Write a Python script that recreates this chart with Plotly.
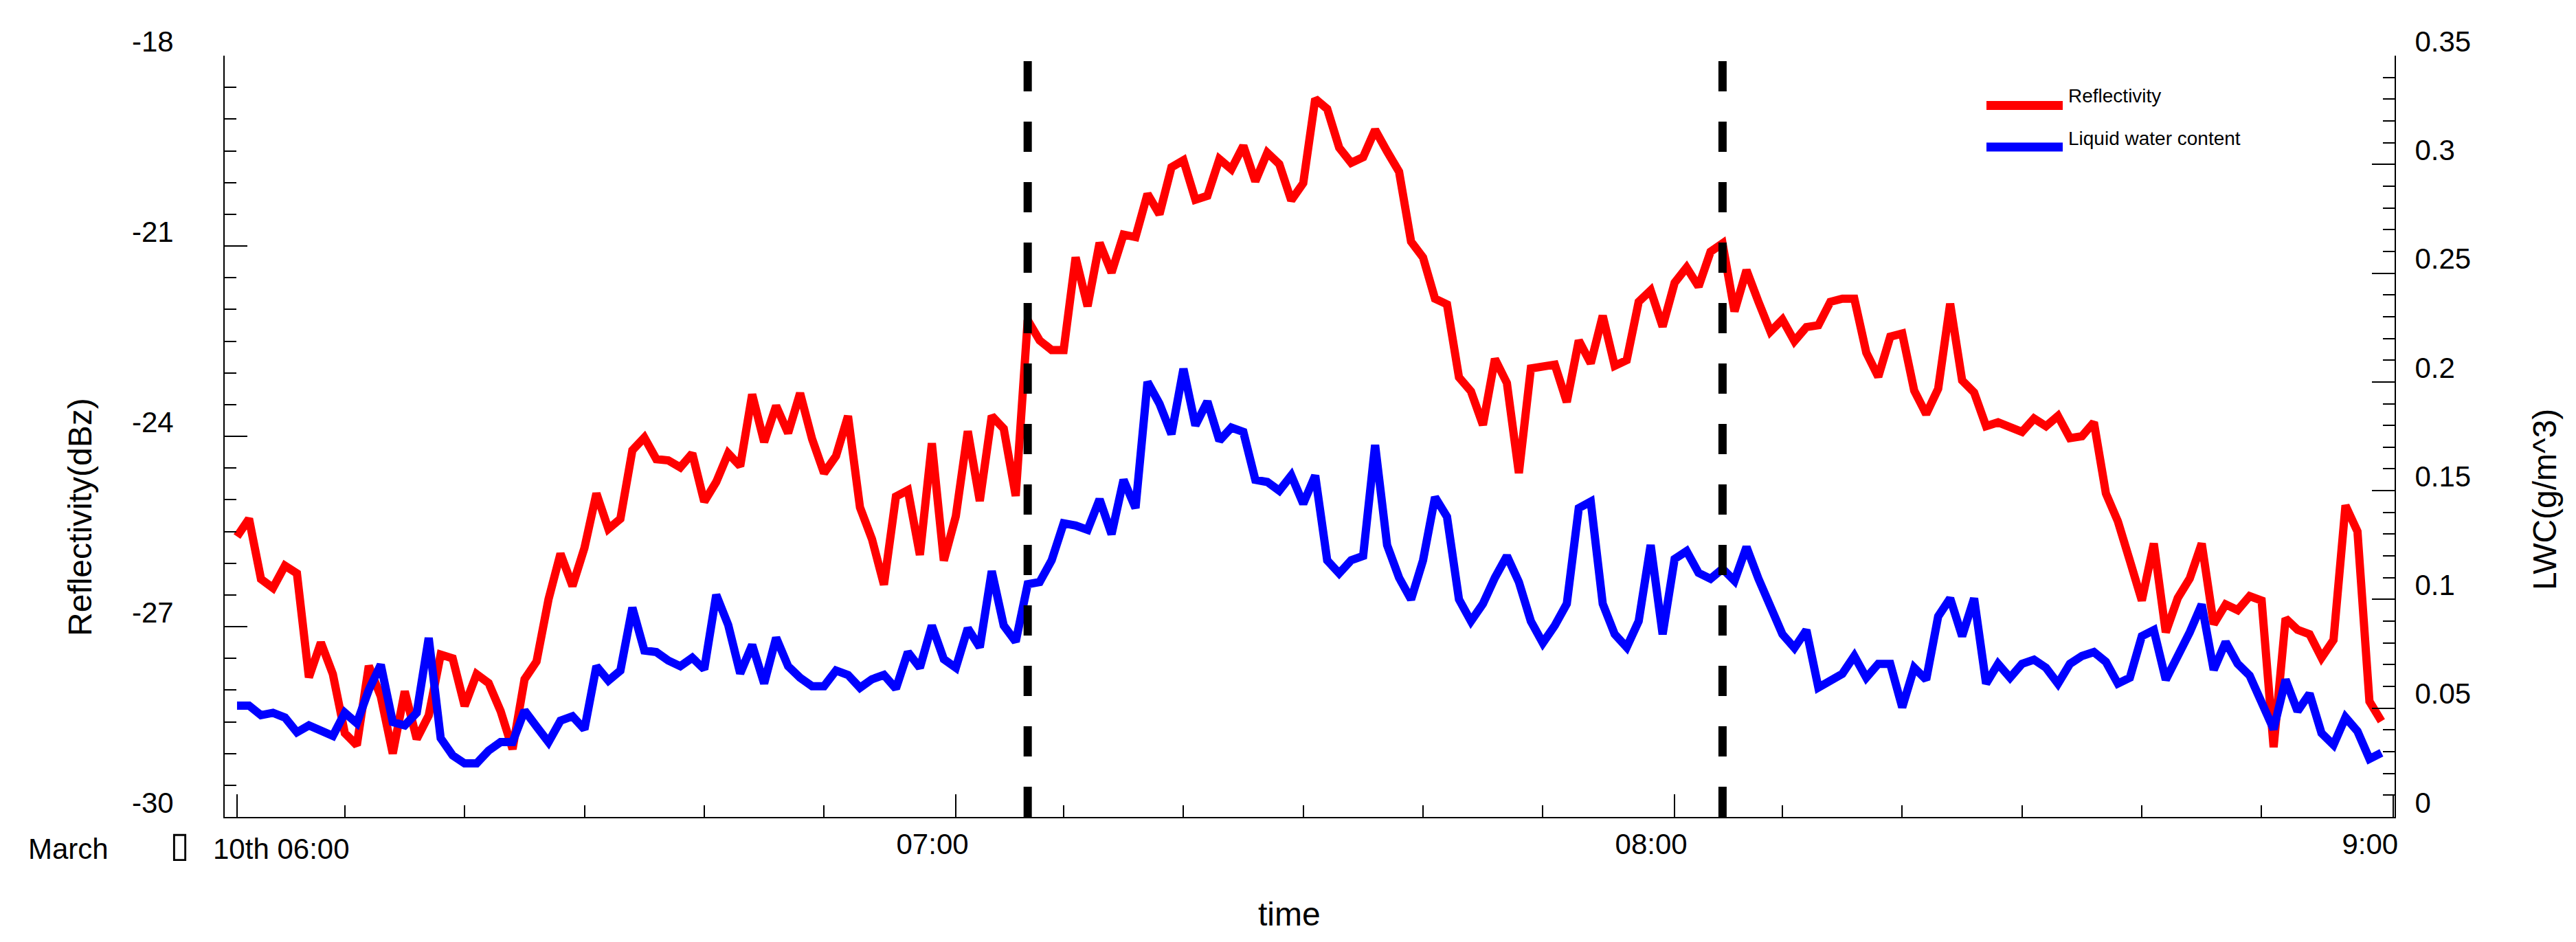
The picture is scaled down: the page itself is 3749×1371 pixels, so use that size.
import plotly.graph_objects as go

# one sample per minute from 06:00
minutes = list(range(180))

reflectivity = [
    -25.58, -25.30, -26.25, -26.39, -26.04, -26.16, -27.80, -27.25, -27.75, -28.68,
    -28.87, -27.62, -28.10, -29.00, -28.02, -28.77, -28.40, -27.44, -27.50, -28.25,
    -27.75, -27.89, -28.33, -28.93, -27.83, -27.55, -26.57, -25.85, -26.36, -25.76,
    -24.90, -25.46, -25.30, -24.22, -24.02, -24.36, -24.38, -24.49, -24.27, -25.03,
    -24.72, -24.27, -24.47, -23.34, -24.09, -23.52, -23.95, -23.32, -24.04, -24.58,
    -24.31, -23.68, -25.12, -25.62, -26.34, -24.95, -24.85, -25.87, -24.11, -25.96,
    -25.26, -23.92, -25.02, -23.68, -23.88, -24.94, -22.17, -22.49, -22.64, -22.64,
    -21.18, -21.95, -20.95, -21.42, -20.82, -20.86, -20.18, -20.50, -19.76, -19.65,
    -20.27, -20.21, -19.63, -19.79, -19.42, -19.98, -19.53, -19.71, -20.28, -20.01,
    -18.68, -18.84, -19.45, -19.69, -19.60, -19.17, -19.51, -19.83, -20.93, -21.18,
    -21.83, -21.92, -23.07, -23.29, -23.82, -22.78, -23.16, -24.58, -22.93, -22.89,
    -22.87, -23.46, -22.49, -22.85, -22.10, -22.89, -22.80, -21.88, -21.70, -22.27,
    -21.58, -21.34, -21.64, -21.09, -20.96, -22.03, -21.38, -21.88, -22.35, -22.16,
    -22.50, -22.28, -22.25, -21.88, -21.83, -21.83, -22.68, -23.06, -22.43, -22.38,
    -23.28, -23.65, -23.25, -21.91, -23.12, -23.31, -23.84, -23.78, -23.84, -23.93,
    -23.72, -23.84, -23.68, -24.03, -24.00, -23.78, -24.90, -25.34, -25.96, -26.59,
    -25.69, -27.09, -26.55, -26.24, -25.69, -26.96, -26.65, -26.74, -26.52, -26.59,
    -28.90, -26.87, -27.05, -27.12, -27.49, -27.21, -25.09, -25.50, -28.18, -28.49,
]

lwc = [
    0.0512, 0.0512, 0.0468, 0.0479, 0.0457, 0.0389, 0.0421, 0.0394, 0.0373, 0.0479,
    0.0431, 0.0584, 0.0700, 0.0436, 0.0421, 0.0479, 0.0823, 0.0362, 0.0283, 0.0246,
    0.0246, 0.0305, 0.0344, 0.0344, 0.0489, 0.0416, 0.0344, 0.0443, 0.0463, 0.0403,
    0.0693, 0.0627, 0.0673, 0.0962, 0.0765, 0.0758, 0.0719, 0.0693, 0.0732, 0.0679,
    0.1021, 0.0883, 0.0660, 0.0791, 0.0614, 0.0824, 0.0693, 0.0640, 0.0601, 0.0601,
    0.0673, 0.0653, 0.0594, 0.0633, 0.0653, 0.0590, 0.0758, 0.0686, 0.0880, 0.0725,
    0.0686, 0.0867, 0.0780, 0.1130, 0.0880, 0.0806, 0.1070, 0.1080, 0.1180, 0.1350,
    0.1340, 0.1320, 0.1460, 0.1300, 0.1550, 0.1420, 0.2000, 0.1900, 0.1760, 0.2060,
    0.1800, 0.1910, 0.1730, 0.1790, 0.1770, 0.1550, 0.1540, 0.1500, 0.1570, 0.1440,
    0.1570, 0.1180, 0.1120, 0.1180, 0.1200, 0.1710, 0.1250, 0.1100, 0.1000, 0.1180,
    0.1470, 0.1380, 0.1000, 0.0900, 0.0980, 0.1100, 0.1200, 0.1080, 0.0900, 0.0800,
    0.0880, 0.0980, 0.1420, 0.1450, 0.0980, 0.0840, 0.0780, 0.0900, 0.1250, 0.0840,
    0.1186, 0.1222, 0.1122, 0.1095, 0.1141, 0.1086, 0.1241, 0.1095, 0.0968, 0.0840,
    0.0777, 0.0859, 0.0595, 0.0622, 0.0658, 0.0740, 0.0640, 0.0704, 0.0704, 0.0504,
    0.0686, 0.0631, 0.0922, 0.1005, 0.0831, 0.1005, 0.0613, 0.0704, 0.0640, 0.0704,
    0.0723, 0.0686, 0.0613, 0.0704, 0.0740, 0.0758, 0.0713, 0.0613, 0.0640, 0.0831,
    0.0859, 0.0631, 0.0731, 0.0849, 0.0977, 0.0676, 0.0804, 0.0704, 0.0650, 0.0531,
    0.0403, 0.0631, 0.0486, 0.0567, 0.0385, 0.0331, 0.0458, 0.0394, 0.0267, 0.0295,
]

# dashed markers (minutes after 06:00)
event_minutes = [66, 124]

refl_ticks = [-30, -27, -24, -21, -18]
refl_ticktext = ["-30", "-27", "-24", "-21", "-18"]
lwc_ticks = [0, 0.05, 0.1, 0.15, 0.2, 0.25, 0.3, 0.35]
lwc_ticktext = ["0", "0.05", "0.1", "0.15", "0.2", "0.25", "0.3", "0.35"]
time_ticks = [0, 60, 120, 180]
time_ticktext = ["10th 06:00", "07:00", "08:00", "9:00"]
minor_time_ticks = [9, 19, 29, 39, 49, 69, 79, 89, 99, 109, 129, 139, 149, 159, 169]

FONT = "Liberation Sans, Arial, sans-serif"
W, H = 3749, 1371
L, R, T, B = 319, 272, 73, 190


def px_x(px):
    return (px - L) / (W - L - R)


def px_y(py):
    return (H - B - py) / (H - T - B)


def label(fig, text, x, y, size=42, angle=0, xanchor="center", family=None, xref="paper", **kw):
    font = dict(size=size)
    if family:
        font["family"] = family
    fig.add_annotation(text=text, x=x, y=y, xref=xref, yref="paper",
                       xanchor=xanchor, yanchor="middle", textangle=angle,
                       showarrow=False, font=font, **kw)


fig = go.Figure()
fig.add_trace(go.Scatter(x=minutes, y=reflectivity, mode="lines", name="Reflectivity",
                         line=dict(color="#ff0000", width=12), yaxis="y"))
fig.add_trace(go.Scatter(x=minutes, y=lwc, mode="lines", name="Liquid water content",
                         line=dict(color="#0000ff", width=12), yaxis="y2"))
for t in event_minutes:
    fig.add_trace(go.Scatter(x=[t, t], y=[0, 0.35], mode="lines", yaxis="y2", hoverinfo="skip",
                             line=dict(color="black", width=12, dash="44px,44px")))

tick_style = dict(ticks="inside", tickcolor="black", showgrid=False, zeroline=False,
                  showline=True, linecolor="black", linewidth=2)

fig.update_layout(
    width=W, height=H,
    margin=dict(l=L, r=R, t=T, b=B, autoexpand=False),
    paper_bgcolor="white", plot_bgcolor="white",
    showlegend=False,
    font=dict(family=FONT, size=42, color="black"),
    xaxis=dict(range=[-1.03, 180.1], ticklen=33, tickwidth=1.5,
               tickmode="array", tickvals=time_ticks, ticktext=[""] + time_ticktext[1:],
               ticklabelshift=-34, ticklabelstandoff=2,
               minor=dict(tickmode="array", tickvals=minor_time_ticks, ticks="inside",
                          ticklen=17, tickwidth=1.5, tickcolor="black"),
               **tick_style),
    yaxis=dict(range=[-30, -18], ticklen=33, tickwidth=2,
               tickmode="array", tickvals=refl_ticks, ticktext=refl_ticktext,
               ticklabelshift=-21, ticklabelstandoff=64,
               minor=dict(tick0=-30, dtick=0.5, ticks="inside", ticklen=17,
                          tickwidth=2, tickcolor="black"),
               **tick_style),
    yaxis2=dict(range=[0, 0.35], overlaying="y", side="right", anchor="x",
                ticklen=33, tickwidth=2,
                tickmode="array", tickvals=lwc_ticks, ticktext=lwc_ticktext,
                ticklabelshift=-21, ticklabelstandoff=19,
                minor=dict(tick0=0, dtick=0.01, ticks="inside", ticklen=17,
                           tickwidth=2, tickcolor="black"),
                **tick_style),
)

# axis titles and the date row under the axis
label(fig, "Reflectivity(dBz)", px_x(108), px_y(745), size=48, angle=-90)
label(fig, "LWC(g/m^3)", px_x(3695), px_y(719), size=48, angle=-90)
label(fig, "time", px_x(1868), px_y(1322), size=48)
label(fig, "March", px_x(31), px_y(1227), xanchor="left")
label(fig, "▯", px_x(253), px_y(1221), size=52, family="DejaVu Sans")
label(fig, time_ticktext[0], time_ticks[0], px_y(1227), xanchor="left", xref="x", xshift=-37)

# legend drawn as keys + labels in the upper right corner
legend_items = [("Reflectivity", "#ff0000", 145.5, 132), ("Liquid water content", "#0000ff", 206, 193)]
for text, color, key_y, text_y in legend_items:
    fig.add_shape(type="line", xref="paper", yref="paper", x0=px_x(2883), x1=px_x(2994),
                  y0=px_y(key_y), y1=px_y(key_y), line=dict(color=color, width=13))
    label(fig, text, px_x(3000), px_y(text_y), size=28, xanchor="left")

fig.write_html("out.html")
